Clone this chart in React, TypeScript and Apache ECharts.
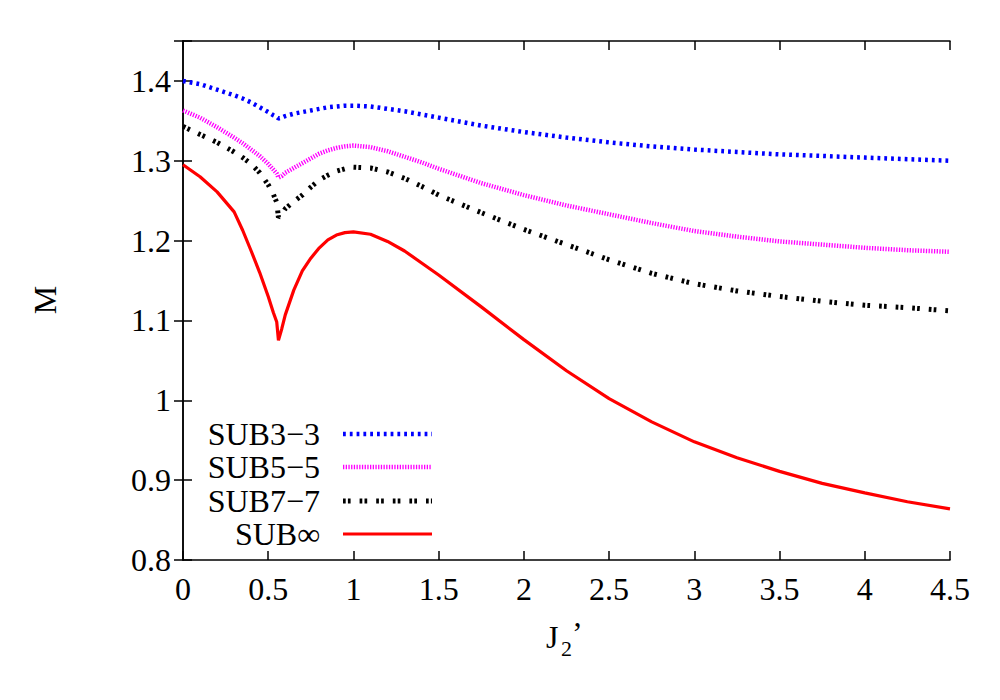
import React, { useEffect, useRef } from "react";
import * as echarts from "echarts";

const J = [0, 0.1, 0.2, 0.3, 0.35, 0.4, 0.45, 0.5, 0.53, 0.55, 0.56, 0.58, 0.6, 0.65, 0.7, 0.75, 0.8, 0.85, 0.9, 0.95, 1.0, 1.1, 1.2, 1.3, 1.4, 1.5, 1.75, 2, 2.25, 2.5, 2.75, 3, 3.25, 3.5, 3.75, 4, 4.25, 4.5];

const sub33 = [1.400, 1.396, 1.389, 1.382, 1.378, 1.373, 1.367, 1.361, 1.357, 1.355, 1.353, 1.354, 1.356, 1.359, 1.361, 1.363, 1.365, 1.367, 1.368, 1.369, 1.369, 1.368, 1.365, 1.362, 1.358, 1.354, 1.344, 1.336, 1.329, 1.323, 1.318, 1.314, 1.311, 1.308, 1.306, 1.304, 1.302, 1.300];
const sub55 = [1.363, 1.354, 1.342, 1.329, 1.322, 1.314, 1.306, 1.296, 1.289, 1.284, 1.279, 1.281, 1.285, 1.291, 1.297, 1.303, 1.309, 1.313, 1.316, 1.318, 1.319, 1.317, 1.312, 1.305, 1.298, 1.290, 1.272, 1.257, 1.244, 1.233, 1.222, 1.212, 1.205, 1.199, 1.195, 1.191, 1.188, 1.186];
const sub77 = [1.343, 1.333, 1.323, 1.311, 1.304, 1.296, 1.285, 1.270, 1.258, 1.248, 1.229, 1.233, 1.240, 1.249, 1.257, 1.267, 1.276, 1.282, 1.287, 1.290, 1.292, 1.291, 1.286, 1.278, 1.268, 1.257, 1.235, 1.214, 1.195, 1.176, 1.159, 1.146, 1.137, 1.130, 1.124, 1.119, 1.116, 1.112];
const subInf = [1.295, 1.280, 1.261, 1.236, 1.213, 1.187, 1.160, 1.130, 1.110, 1.098, 1.075, 1.090, 1.107, 1.138, 1.162, 1.178, 1.191, 1.201, 1.207, 1.210, 1.211, 1.208, 1.199, 1.187, 1.172, 1.157, 1.117, 1.076, 1.037, 1.002, 0.973, 0.948, 0.928, 0.911, 0.896, 0.884, 0.873, 0.864];

const seriesNames = ["SUB3\u22123", "SUB5\u22125", "SUB7\u22127", "SUB\u221e"];
const seriesColors = ["#0000ff", "#ff00ff", "#000000", "#ff0000"];
const seriesValues = [sub33, sub55, sub77, subInf];
const xTicks = { min: 0, max: 4.5, interval: 0.5 };
const yTicks = { min: 0.8, max: 1.45, interval: 0.1 };

const FONT = "'Liberation Serif', 'Times New Roman', Times, serif";

export default function App() {
  const ref = useRef<HTMLDivElement>(null);
  useEffect(() => {
    if (!ref.current) return;
    const chart = echarts.init(ref.current, null, { renderer: "svg" });
    const styles = [
      { width: 4.5, type: [2.8, 4] as number[] },
      { width: 4.5, type: [1.3, 1.4] as number[] },
      { width: 5, type: [2.7, 2.2, 2.7, 9] as number[] },
      { width: 3.2, type: "solid" as any },
    ];
    const axisLine = { show: true, lineStyle: { color: "#000", width: 1.5 } };
    const tick = { show: true, inside: true, length: 9, lineStyle: { color: "#000", width: 1.5 } };
    const label = { color: "#000", fontSize: 32, fontFamily: FONT };
    const yFmt = (v: number) => {
      const r = Math.round(v * 10);
      return Math.abs(v * 10 - r) < 1e-6 ? String(r / 10) : "";
    };
    const rows = [434, 467, 501, 534];
    const legendGraphics: any[] = [];
    seriesNames.forEach((n, i) => {
      legendGraphics.push({
        type: "text",
        x: 320,
        y: rows[i],
        style: { text: n, fill: "#000", fontSize: 32, fontFamily: FONT, textAlign: "right", textVerticalAlign: "middle" },
      });
      legendGraphics.push({
        type: "line",
        shape: { x1: 343, y1: rows[i], x2: 432, y2: rows[i] },
        style: {
          stroke: seriesColors[i],
          lineWidth: styles[i].width,
          lineDash: Array.isArray(styles[i].type) ? styles[i].type : null,
        },
      });
    });
    chart.setOption({
      animation: false,
      backgroundColor: "#fff",
      grid: { left: 183, right: 50, top: 41, bottom: 140, show: false },
      xAxis: [
        { type: "value", ...xTicks, axisLine, axisTick: tick, splitLine: { show: false }, axisLabel: { ...label, margin: 13 } },
        { type: "value", position: "top", ...xTicks, axisLine, axisTick: tick, splitLine: { show: false }, axisLabel: { show: false } },
      ],
      yAxis: [
        { type: "value", ...yTicks, axisLine, axisTick: tick, splitLine: { show: false }, axisLabel: { ...label, margin: 12, formatter: yFmt } },
        { type: "value", position: "right", ...yTicks, axisLine, axisTick: tick, splitLine: { show: false }, axisLabel: { show: false } },
      ],
      series: seriesNames.map((n, i) => ({
        name: n,
        type: "line",
        xAxisIndex: 0,
        yAxisIndex: 0,
        symbol: "none",
        clip: true,
        data: J.map((x, k) => [x, seriesValues[i][k]]),
        lineStyle: { color: seriesColors[i], width: styles[i].width, type: styles[i].type },
        z: 10 - i,
      })),
      graphic: [
        ...legendGraphics,
        {
          type: "text",
          x: 45,
          y: 300,
          rotation: Math.PI / 2,
          style: { text: "M", fill: "#000", fontSize: 32, fontFamily: FONT, textAlign: "center", textVerticalAlign: "middle" },
        },
        {
          type: "text",
          x: 546,
          y: 637,
          style: { text: "J", fill: "#000", fontSize: 32, fontFamily: FONT, textAlign: "left", textVerticalAlign: "middle" },
        },
        {
          type: "text",
          x: 561,
          y: 648,
          style: { text: "2", fill: "#000", fontSize: 22, fontFamily: FONT, textAlign: "left", textVerticalAlign: "middle" },
        },
        {
          type: "text",
          x: 572,
          y: 633,
          style: { text: "\u2019", fill: "#000", fontSize: 32, fontFamily: FONT, textAlign: "left", textVerticalAlign: "middle" },
        },
      ],
    });
    return () => chart.dispose();
  }, []);
  return <div ref={ref} style={{ width: 1000, height: 700, position: "absolute", left: 0, top: 0 }} />;
}
